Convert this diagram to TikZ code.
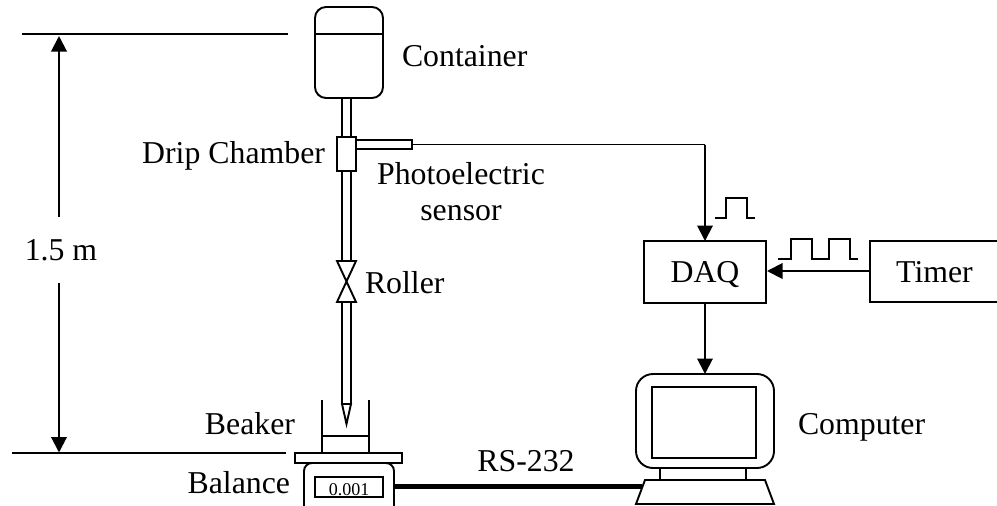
\documentclass[tikz,border=0pt]{standalone}
\usepackage{fontspec}
\setmainfont{Liberation Serif}
\usetikzlibrary{arrows.meta}
\tikzset{
  x=1pt,y=-1pt,
  part/.style={draw,line width=1.9pt,fill=white,inner sep=0pt,outer sep=0pt},
  blockbox/.style={draw,line width=1.7pt,inner sep=0pt,outer sep=0pt,text height=21pt,text depth=0pt,font=\fontsize{31.8}{36}\selectfont},
  lab/.style={inner sep=0pt,outer sep=0pt,font=\fontsize{31.8}{36}\selectfont},
  sig/.style={line width=2pt,-{Triangle[length=15.5pt,width=15.5pt]}},
  pulse/.style={line width=1.5pt},
  dim/.style={line width=1.8pt},
}
\begin{document}
\begin{tikzpicture}
\useasboundingbox (0,0) rectangle (997,506);
% dimension lines
\coordinate (topL) at (22,34); \coordinate (topR) at (288,34);
\coordinate (botL) at (12,453); \coordinate (botR) at (286,453);
\draw[dim] (topL) -- (topR);
\draw[dim] (botL) -- (botR);
\node[lab,anchor=base] (height) at (61,260) {1.5 m};
\coordinate (upEnd) at (59,36); \coordinate (upStart) at (59,217);
\coordinate (dnEnd) at (59,452.5); \coordinate (dnStart) at (59,283);
\draw[sig] (upStart) -- (upEnd);
\draw[sig] (dnStart) -- (dnEnd);
% tubes
\draw[part] (342,98) -- (342,137) (351,98) -- (351,137);
\draw[part] (342,171) -- (342,261) (351,171) -- (351,261);
\draw[part] (342,302) -- (342,404) (351,302) -- (351,404);
% needle
\draw[part,line join=miter] (342,404) -- (346.5,424) -- (351,404) -- cycle;
% container
\node[part,rounded corners=11pt,minimum width=68pt,minimum height=91pt,anchor=north west] (container) at (315,7) {};
\draw[part] (315,34) -- (383,34);
% chamber and sensor
\node[part,minimum width=19pt,minimum height=34pt,anchor=north west] (chamber) at (337,137) {};
\node[part,minimum width=56pt,minimum height=9pt,anchor=north west] (sensor) at (356,140) {};
% valve
\draw[part,line join=miter] (337,261) -- (356,261) -- (337,302) -- (356,302) -- cycle;
% beaker, balance
\draw[part] (322,400) -- (322,453) (369,400) -- (369,453) (322,436) -- (369,436);
\node[part,minimum width=107pt,minimum height=10pt,anchor=north west] (platform) at (295,453) {};
\draw[part,rounded corners=8pt] (304,520) -- (304,463) -- (394,463) -- (394,520);
\node[draw,line width=2pt,inner sep=0pt,outer sep=0pt,minimum width=68pt,minimum height=20pt,anchor=north west,text height=12pt,text depth=0pt,font=\fontsize{18}{18}\selectfont] (display) at (315,477) {\raisebox{-2pt}{0.001}};
% blocks
\node[blockbox,minimum width=122pt,minimum height=62pt,anchor=north west] (daq) at (644,241) {DAQ};
\node[blockbox,minimum width=129pt,minimum height=61pt,anchor=north west] (timer) at (870,241) {Timer};
% computer
\node[part,rounded corners=17pt,minimum width=138pt,minimum height=94pt,anchor=north west] (monitor) at (636,374) {};
\node[part,minimum width=104pt,minimum height=71pt,anchor=north west] (screen) at (652,387) {};
\draw[part] (660,468) -- (660,480) (746,468) -- (746,480);
\draw[part,line join=miter] (645,480) -- (765,480) -- (774,504) -- (636,504) -- cycle;
\coordinate (kbd) at (642,486);
\coordinate (balR) at (395,486);
\draw[line width=5pt] (balR) -- (kbd);
% signals
\coordinate (wireCorner) at (705,144.5);
\draw[line width=1.8pt] (sensor.east) -- (wireCorner);
\draw[sig] (wireCorner) -- (daq.north);
\coordinate (timerIn) at (870,271);
\coordinate (daqIn) at (767,271);
\draw[sig] (timerIn) -- (daqIn);
\draw[sig] (daq.south) -- (monitor.north);
% pulses
\draw[pulse] (715,218) -- (726,218) -- (726,198) -- (747,198) -- (747,218) -- (755,218);
\draw[pulse] (778,259) -- (791,259) -- (791,239) -- (812,239) -- (812,259) -- (829,259) -- (829,239) -- (850,239) -- (850,259) -- (858,259);
% labels
\node[lab,anchor=base west] (lcont) at (402,66) {Container};
\node[lab,anchor=base east] (ldrip) at (325,163) {Drip Chamber};
\node[lab,align=center] (lphoto) at (461,192) {Photoelectric\\sensor};
\node[lab,anchor=base west] (lroll) at (365,293) {Roller};
\node[lab,anchor=base east] (lbeak) at (295,434) {Beaker};
\node[lab,anchor=base east] (lbal) at (290,493) {Balance};
\node[lab,anchor=base] (lrs) at (526,471) {RS-232};
\node[lab,anchor=base west] (lcomp) at (798,434) {Computer};
\end{tikzpicture}
\end{document}
